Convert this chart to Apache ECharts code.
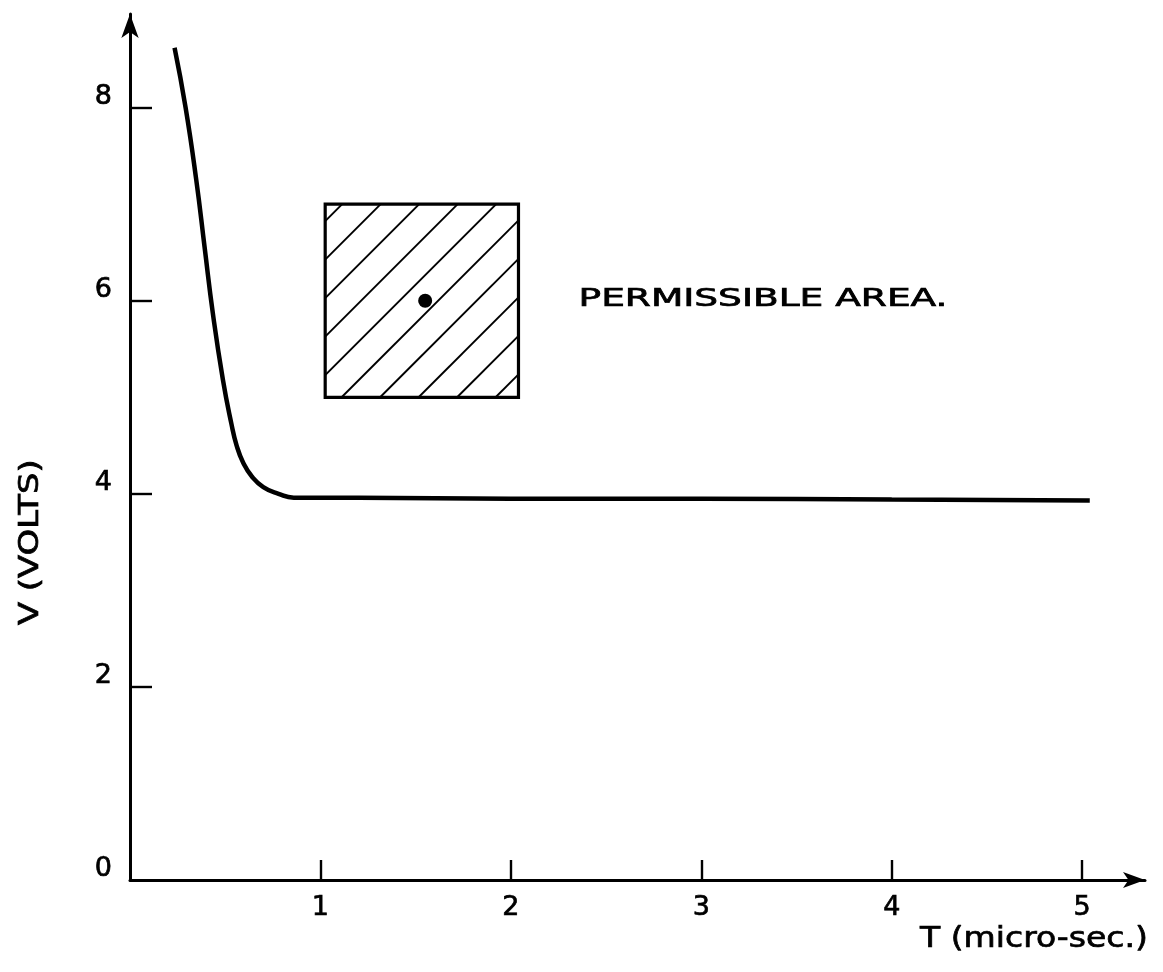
<!DOCTYPE html>
<html>
<head>
<meta charset="utf-8">
<script src="https://cdn.jsdelivr.net/npm/echarts@6/dist/echarts.min.js"></script>
<style>
html,body{margin:0;padding:0;background:#fff;}
#chart{width:1163px;height:972px;}
</style>
</head>
<body>
<div id="chart"></div>
<script>
// ---- data ----
const curveT = [0.234, 0.292, 0.348, 0.392, 0.435, 0.488, 0.532, 0.56, 0.595, 0.64, 0.70, 0.78, 0.86, 1.2, 2, 3, 4, 5.04];
const curveV = [8.62, 8.00, 7.25, 6.55, 5.87, 5.18, 4.73, 4.50, 4.32, 4.18, 4.07, 4.00, 3.96, 3.96, 3.95, 3.95, 3.94, 3.93];
const boxT = [1.025, 2.04];
const boxV = [5, 7];
const pointT = [1.55];
const pointV = [6.0];
const xTickValues = [1, 2, 3, 4, 5];
const yTickValues = [2, 4, 6, 8];
const yLabelValues = [0, 2, 4, 6, 8];
const annotationText = 'PERMISSIBLE AREA.';
const xTitle = 'T (micro-sec.)';
const yTitle = 'V (VOLTS)';

const FONT = '"DejaVu Sans", sans-serif';
const chart = echarts.init(document.getElementById('chart'));

function hatchRender(params, api) {
  const p0 = api.coord([api.value(0), api.value(3)]);
  const p1 = api.coord([api.value(2), api.value(1)]);
  const L = p0[0], T = p0[1], R = p1[0], B = p1[1];
  const children = [];
  const step = 38.5;
  for (let c = L + T + 17; c < R + B; c += step) {
    let x1 = c - T, y1 = T;
    if (x1 > R) { x1 = R; y1 = c - R; }
    let x2 = c - B, y2 = B;
    if (x2 < L) { x2 = L; y2 = c - L; }
    children.push({type: 'line', shape: {x1: x1, y1: y1, x2: x2, y2: y2},
      style: {stroke: '#000', lineWidth: 1.9}});
  }
  children.push({type: 'rect', shape: {x: L, y: T, width: R - L, height: B - T},
    style: {fill: null, stroke: '#000', lineWidth: 3.2}});
  return {type: 'group', children: children};
}

const labelStyle = {color: '#000', fontFamily: FONT, fontSize: 27,
  textBorderColor: '#000', textBorderWidth: 0.7};

const option = {
  backgroundColor: '#fff',
  animation: false,
  grid: {left: 130, right: 18, top: 14, bottom: 92},
  xAxis: {
    type: 'value', min: 0, max: 5.33, interval: 1,
    splitLine: {show: false},
    axisLine: {show: true, lineStyle: {color: '#000', width: 3},
      symbol: ['none', 'arrow'], symbolSize: [12, 22]},
    axisTick: {show: true, inside: true, length: 20, lineStyle: {color: '#000', width: 2.4},
      customValues: xTickValues},
    axisLabel: Object.assign({show: true, margin: 14, customValues: xTickValues}, labelStyle)
  },
  yAxis: {
    type: 'value', min: 0, max: 8.97, interval: 1,
    splitLine: {show: false},
    axisLine: {show: true, lineStyle: {color: '#000', width: 3},
      symbol: ['none', 'arrow'], symbolSize: [13, 24]},
    axisTick: {show: true, inside: true, length: 22, lineStyle: {color: '#000', width: 2.4},
      customValues: yTickValues},
    axisLabel: Object.assign({show: true, margin: 18, verticalAlign: 'bottom', lineHeight: 22,
      customValues: yLabelValues}, labelStyle)
  },
  series: [
    {
      type: 'line',
      data: curveT.map((t, i) => [t, curveV[i]]),
      showSymbol: false,
      smooth: 0.5,
      lineStyle: {color: '#000', width: 4.5},
      clip: false
    },
    {
      type: 'custom',
      renderItem: hatchRender,
      data: [[boxT[0], boxV[0], boxT[1], boxV[1]]],
      encode: {x: [0, 2], y: [1, 3]},
      clip: false,
      z: 3
    },
    {
      type: 'scatter',
      data: pointT.map((t, i) => [t, pointV[i]]),
      symbolSize: 14,
      itemStyle: {color: '#000', opacity: 1},
      z: 4
    }
  ],
  graphic: [
    {type: 'text', left: 578, top: 287, scaleX: 1.5,
      style: {text: annotationText, fontFamily: FONT, fontSize: 25, fill: '#000',
        stroke: '#000', lineWidth: 0.7}},
    {type: 'text', x: 920, y: 925, scaleX: 1.14,
      style: {text: xTitle, fontFamily: FONT, fontSize: 29, fill: '#000',
        stroke: '#000', lineWidth: 0.7}},
    {type: 'text', x: 18, y: 625, rotation: Math.PI / 2, scaleX: 1.3,
      style: {text: yTitle, fontFamily: FONT, fontSize: 26, fill: '#000',
        stroke: '#000', lineWidth: 0.7}}
  ]
};
chart.setOption(option);
</script>
</body>
</html>
